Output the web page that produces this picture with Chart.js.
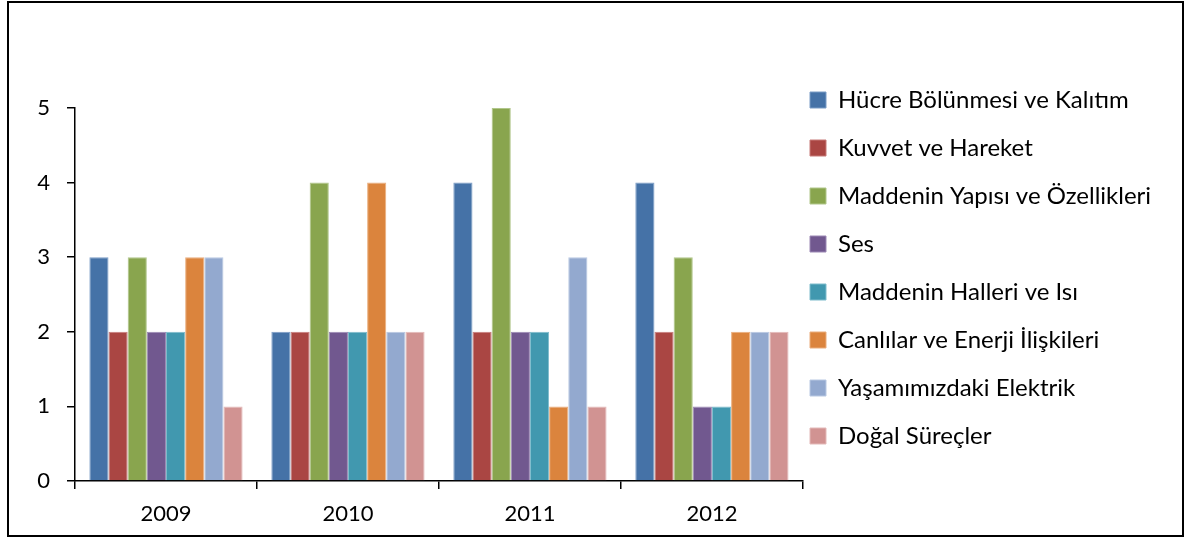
<!DOCTYPE html>
<html>
<head>
<meta charset="utf-8">
<script src="https://cdn.jsdelivr.net/npm/chart.js@4"></script>
<style>
  html, body { margin: 0; padding: 0; background: #fff; overflow: hidden; }
  #wrap { width: 1197px; height: 540px; }
  canvas { display: block; }
</style>
</head>
<body>
<div id="wrap"><canvas id="konuChart"></canvas></div>
<script>
// categories
const years = ['2009', '2010', '2011', '2012'];

// series (one per topic)
const hucre    = [3, 2, 4, 4];
const kuvvet   = [2, 2, 2, 2];
const madde    = [3, 4, 5, 3];
const ses      = [2, 2, 2, 1];
const halleri  = [2, 2, 2, 1];
const canlilar = [3, 4, 1, 2];
const elektrik = [3, 2, 3, 2];
const dogal    = [1, 2, 1, 2];

const seriesNames = [
    'Hücre Bölünmesi ve Kalıtım',
    'Kuvvet ve Hareket',
    'Maddenin Yapısı ve Özellikleri',
    'Ses',
    'Maddenin Halleri ve Isı',
    'Canlılar ve Enerji İlişkileri',
    'Yaşamımızdaki Elektrik',
    'Doğal Süreçler'
];
const seriesValues = [hucre, kuvvet, madde, ses, halleri, canlilar, elektrik, dogal];
const yTicks = [0, 1, 2, 3, 4, 5];

// excel 2007 style palette
const fills   = ['#4572A7', '#AA4643', '#89A54E', '#71588F', '#4198AF', '#DB843D', '#93A9CF', '#D19392'];
const borders = ['#7b9cc6', '#c77b79', '#b0c68a', '#9c88b4', '#7ebccc', '#eaad7c', '#b8c8e2', '#e3b9b8'];

const FONT = 'Lato, "Open Sans", sans-serif';

// draws the outer black frame round the whole chart
const frame = {
    id: 'frame',
    afterDraw(chart) {
        const ctx = chart.ctx;
        ctx.save();
        ctx.strokeStyle = '#000';
        ctx.lineWidth = 2;
        ctx.strokeRect(8, 2, 1175, 534);
        ctx.restore();
    }
};

// pull the legend closer to the plot (labels.padding also sets the row spacing)
const legendNudge = {
    id: 'legendNudge',
    afterLayout(chart) {
        const shift = chart.legend.left + chart.options.plugins.legend.labels.padding - 810;
        chart.legend.left -= shift;
        chart.legend.right -= shift;
    }
};

const datasets = seriesNames.map((name, i) => ({
    label: name,
    data: seriesValues[i],
    backgroundColor: fills[i],
    borderColor: borders[i],
    borderWidth: 1
}));

const ctx = document.getElementById('konuChart').getContext('2d');
const chart = new Chart(ctx, {
    type: 'bar',
    data: {
        labels: years,
        datasets: datasets
    },
    plugins: [frame, legendNudge],
    options: {
        responsive: true,
        maintainAspectRatio: false,
        animation: false,
        layout: {
            padding: { left: 0, right: 19, top: 0, bottom: 4 }
        },
        datasets: {
            bar: {
                categoryPercentage: 8 / 9.5,
                barPercentage: 1
            }
        },
        scales: {
            x: {
                grid: {
                    drawOnChartArea: false,
                    drawTicks: true,
                    tickLength: 8,
                    color: '#000',
                    lineWidth: 1.5
                },
                border: { color: '#000', width: 1.5 },
                ticks: {
                    color: '#000',
                    padding: 12,
                    font: { family: FONT, size: 22 }
                },
                afterFit(scale) { scale.height = 55; }
            },
            y: {
                min: 0,
                max: 5,
                afterBuildTicks(scale) {
                    scale.ticks = yTicks.map(v => ({ value: v }));
                },
                grid: {
                    drawOnChartArea: false,
                    drawTicks: true,
                    tickLength: 8,
                    color: '#000',
                    lineWidth: 1.5
                },
                border: { color: '#000', width: 1.5 },
                ticks: {
                    color: '#000',
                    padding: 17,
                    font: { family: FONT, size: 22 }
                },
                afterFit(scale) { scale.width = 75; }
            }
        },
        plugins: {
            // empty title only reserves the space above the plot
            title: {
                display: true,
                text: '',
                font: { size: 10, lineHeight: 1 },
                padding: { top: 0, bottom: 98 }
            },
            legend: {
                position: 'right',
                align: 'center',
                maxWidth: 600,
                labels: {
                    color: '#000',
                    boxWidth: 16,
                    boxHeight: 16,
                    padding: 24,
                    font: { family: FONT, size: 24 }
                }
            },
            tooltip: { enabled: false }
        }
    }
});
</script>
</body>
</html>
